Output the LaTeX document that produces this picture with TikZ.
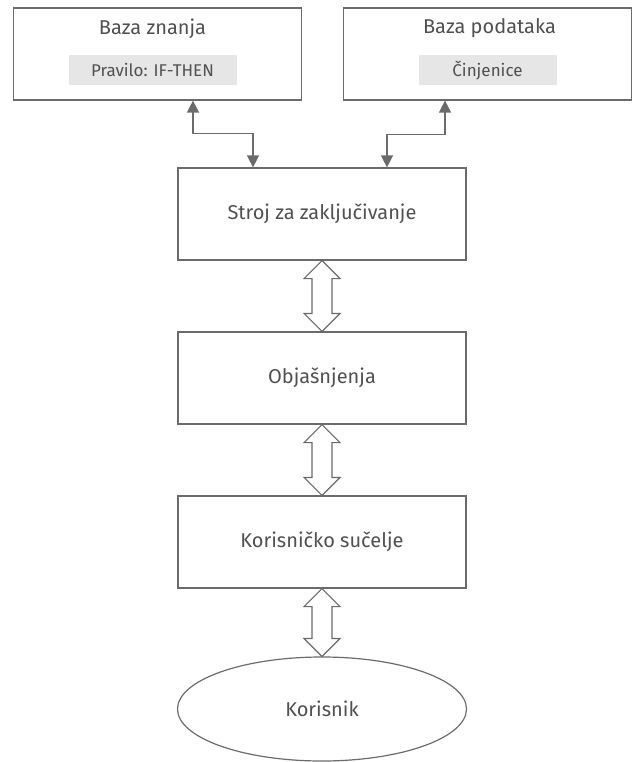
\documentclass[tikz,border=0pt]{standalone}
\usepackage{fontspec}
\setmainfont{Fira Sans}
\usetikzlibrary{positioning, shapes.geometric, arrows.meta, calc}

\definecolor{linegray}{HTML}{6B6B6B}
\definecolor{textgray}{HTML}{505050}
\definecolor{tagfill}{HTML}{E6E6E6}

% hollow two-way arrow between two stacked nodes
\newcommand{\twoway}[2]{%
  \draw[hollow] let \p1=(#1.south), \p2=(#2.north) in
    (\x1,\y1) -- (\x1+18pt,\y1-18pt) -- (\x1+10pt,\y1-18pt) -- (\x1+10pt,\y2+18pt)
    -- (\x1+18pt,\y2+18pt) -- (\x1,\y2) -- (\x1-18pt,\y2+18pt) -- (\x1-10pt,\y2+18pt)
    -- (\x1-10pt,\y1-18pt) -- (\x1-18pt,\y1-18pt) -- cycle;}

\begin{document}
\begin{tikzpicture}[x=1pt, y=-1pt, node distance=164pt, on grid,
  every node/.style={text=textgray},
  block/.style={draw=linegray, line width=1.2pt, minimum width=288pt, minimum height=92pt, inner sep=0pt, font=\fontsize{20}{24}\selectfont},
  tag/.style={fill=tagfill, minimum height=30pt, inner sep=0pt, font=\fontsize{17}{20}\selectfont},
  title/.style={font=\fontsize{20}{24}\selectfont},
  hollow/.style={draw=linegray, line width=1.2pt, fill=white},
  link/.style={draw=linegray, line width=1.4pt, {Triangle[width=12pt,length=12pt]}-{Triangle[width=12pt,length=12pt]}}]
  \useasboundingbox (0,0) rectangle (634,762);
  \node[block] (kb) at (157.5,54) {};
  \node[block] (db) at (487.5,54) {};
  \node[title] (kbname) at ($(kb.north)+(-5,21)$) {Baza znanja};
  \node[tag, minimum width=168pt] (rules) at ($(kb.north)+(-5,63)$) {Pravilo: IF-THEN};
  \node[title] (dbname) at ($(db.north)+(2,21)$) {Baza podataka};
  \node[tag, minimum width=138pt] (facts) at ($(db.north)+(0,63)$) {Činjenice};
  \node[block] (engine) at (322,214) {Stroj za zaključivanje};
  \node[block] (expl) [below=of engine] {Objašnjenja};
  \node[block] (ui) [below=of expl] {Korisničko sučelje};
  \node[ellipse, draw=linegray, line width=1.2pt, minimum width=289pt, minimum height=104pt,
        inner sep=0pt, font=\fontsize{20}{24}\selectfont] (user) [below=167pt of ui] {Korisnik};
  \draw[link] ([xshift=35.5pt]kb.south) -- ++(0,33) -| ([xshift=-69pt]engine.north);
  \draw[link] ([xshift=-42.5pt]db.south) -- ++(0,34) -| ([xshift=65pt]engine.north);
  \twoway{engine}{expl}
  \twoway{expl}{ui}
  \twoway{ui}{user}
\end{tikzpicture}
\end{document}
